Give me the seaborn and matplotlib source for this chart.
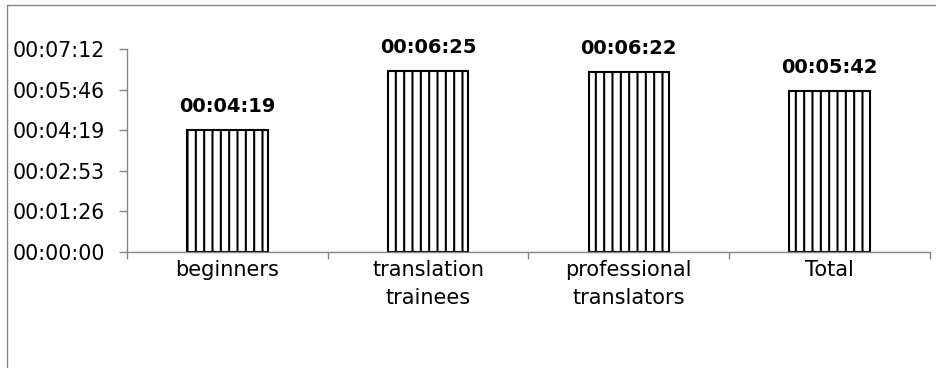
import matplotlib
matplotlib.use("Agg")
import matplotlib.pyplot as plt
import seaborn as sns
import pandas as pd
from matplotlib.ticker import FuncFormatter, FixedLocator
from matplotlib.patches import Rectangle

categories = ["beginners", "translation\ntrainees", "professional\ntranslators", "Total"]
seconds = [259, 385, 382, 342]
y_ticks = [0, 86.4, 172.8, 259.2, 345.6, 432]

def hms(v, pos=None):
    s = int(round(v))
    return f"{s // 3600:02d}:{(s % 3600) // 60:02d}:{s % 60:02d}"

sns.set_style("white")
plt.rcParams["font.family"] = ["DejaVu Sans"]
plt.rcParams["text.color"] = "black"
plt.rcParams["xtick.labelcolor"] = "black"
plt.rcParams["ytick.labelcolor"] = "black"
plt.rcParams["hatch.linewidth"] = 1.5
plt.rcParams["hatch.color"] = "black"

fig = plt.figure(figsize=(9.36, 3.68), dpi=100)
ax = fig.add_axes([127 / 936, 1 - 252 / 368, (930 - 127) / 936, 203 / 368])

df = pd.DataFrame({"cat": categories, "sec": seconds})
sns.barplot(data=df, x="cat", y="sec", color="white", edgecolor="black",
            linewidth=1.5, width=0.4, saturation=1, ax=ax)
for p in ax.patches:
    p.set_hatch("||")
    p.set_facecolor("white")
    p.set_edgecolor("black")

for i, v in enumerate(seconds):
    ax.annotate(hms(v), (i, v), xytext=(0, 13), textcoords="offset points",
                ha="center", va="baseline", fontsize=14, fontweight="bold", color="black")

ax.set_xlim(-0.5, 3.5)
ax.set_ylim(0, 432)
ax.yaxis.set_major_locator(FixedLocator(y_ticks))
ax.yaxis.set_major_formatter(FuncFormatter(hms))
ax.set_xlabel("")
ax.set_ylabel("")
ax.set_xticks(range(len(categories)))
ax.set_xticklabels(categories, fontsize=15, linespacing=1.45, color="black")
ax.set_xticks([-0.5, 0.5, 1.5, 2.5, 3.5], minor=True)
ax.tick_params(axis="x", which="major", length=0, pad=6)
ax.tick_params(axis="x", which="minor", length=5, width=1, color="#868686", direction="out")
ax.tick_params(axis="y", which="major", length=6, width=1, color="#868686", direction="out",
               labelsize=14.8, pad=10, labelcolor="black")
ax.tick_params(left=True, bottom=True, which="both")
for side in ["top", "right"]:
    ax.spines[side].set_visible(False)
for side in ["left", "bottom"]:
    ax.spines[side].set_color("#868686")
    ax.spines[side].set_linewidth(1)
ax.grid(False)

fig.add_artist(Rectangle((7 / 936, -0.1), 1.0, 1 - 5 / 368 + 0.1, transform=fig.transFigure,
                         fill=False, edgecolor="#868686", linewidth=1))

fig.savefig("out.png", dpi=100)
